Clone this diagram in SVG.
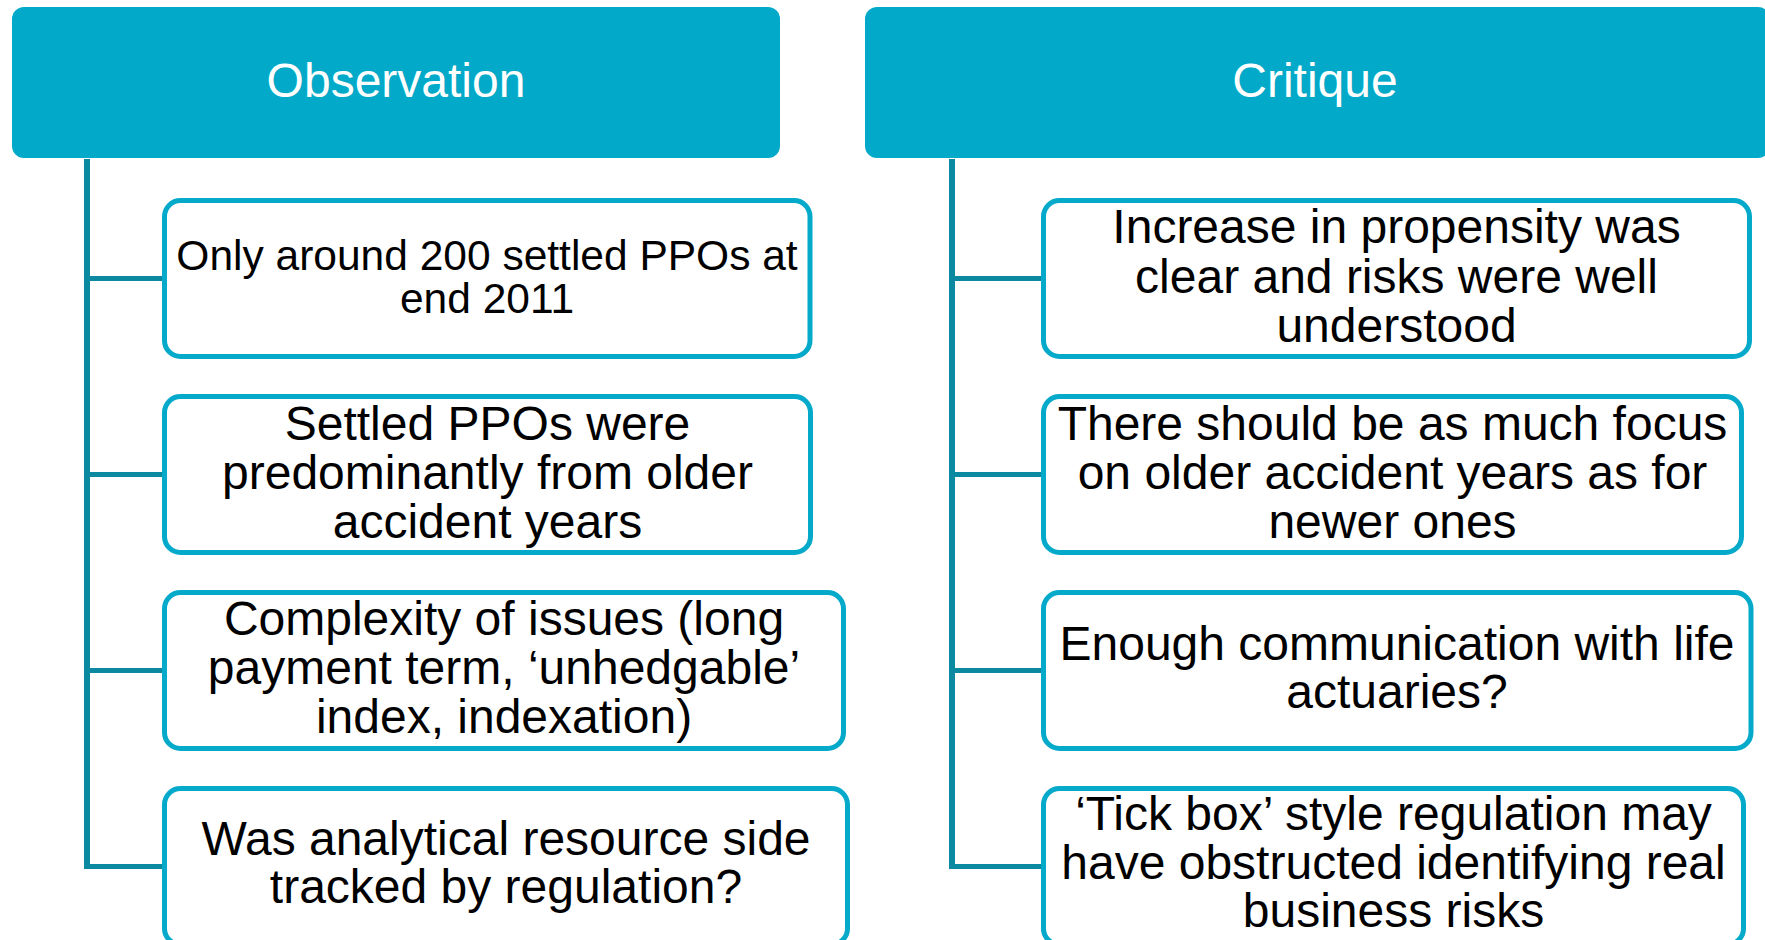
<svg xmlns="http://www.w3.org/2000/svg" width="1765" height="940" viewBox="0 0 1765 940">
  <style>
    .hdr { fill: #02A9C8; }
    .hdr-text { font-family: "Liberation Sans", Arial, sans-serif; font-size: 48px; fill: #FFFFFF; text-anchor: middle; }
    .item { fill: #FFFFFF; stroke: #05AACA; stroke-width: 5; }
    .item-text { font-family: "Liberation Sans", Arial, sans-serif; font-size: 48px; fill: #000000; text-anchor: middle; }
    .small { font-size: 42.5px; }
    .link { fill: none; stroke: #0A89A1; stroke-width: 6; stroke-linecap: square; stroke-linejoin: miter; }
    .branch { fill: none; stroke: #0A89A1; stroke-width: 5; }
  </style>

  <rect width="1765" height="940" fill="#FFFFFF"/>

  <!-- tree connectors -->
  <g id="connectors">
    <path class="link" d="M87,162 V866"/>
    <path class="branch" d="M84,278.5 H163 M84,474.5 H163 M84,670.5 H163 M84,866.5 H163"/>
    <path class="link" d="M952,162 V866"/>
    <path class="branch" d="M949,278.5 H1042 M949,474.5 H1042 M949,670.5 H1042 M949,866.5 H1042"/>
  </g>

  <!-- column headers -->
  <g id="header-observation">
    <rect class="hdr" x="12" y="7" width="768" height="151" rx="12"/>
    <text class="hdr-text" x="396" y="97">Observation</text>
  </g>
  <g id="header-critique">
    <rect class="hdr" x="865" y="7" width="905" height="151" rx="12"/>
    <text class="hdr-text" x="1315" y="97">Critique</text>
  </g>

  <!-- observation items -->
  <g id="obs-1">
    <rect class="item" x="164.5" y="200.5" width="645.5" height="156" rx="16"/>
    <text class="item-text small" x="487" y="270">Only around 200 settled PPOs at</text>
    <text class="item-text small" x="487" y="313">end 2011</text>
  </g>
  <g id="obs-2">
    <rect class="item" x="164.5" y="396.5" width="646" height="156" rx="16"/>
    <text class="item-text" x="487.5" y="440">Settled PPOs were</text>
    <text class="item-text" x="487.5" y="489">predominantly from older</text>
    <text class="item-text" x="487.5" y="538">accident years</text>
  </g>
  <g id="obs-3">
    <rect class="item" x="164.5" y="592.5" width="679" height="156" rx="16"/>
    <text class="item-text" x="504" y="635">Complexity of issues (long</text>
    <text class="item-text" x="504" y="684">payment term, ‘unhedgable’</text>
    <text class="item-text" x="504" y="733">index, indexation)</text>
  </g>
  <g id="obs-4">
    <rect class="item" x="164.5" y="788.5" width="683" height="156" rx="16"/>
    <text class="item-text" x="506" y="855">Was analytical resource side</text>
    <text class="item-text" x="506" y="903">tracked by regulation?</text>
  </g>

  <!-- critique items -->
  <g id="crit-1">
    <rect class="item" x="1043.5" y="200.5" width="706" height="156" rx="16"/>
    <text class="item-text" x="1396.5" y="243">Increase in propensity was</text>
    <text class="item-text" x="1396.5" y="293">clear and risks were well</text>
    <text class="item-text" x="1396.5" y="342">understood</text>
  </g>
  <g id="crit-2">
    <rect class="item" x="1043.5" y="396.5" width="698" height="156" rx="16"/>
    <text class="item-text" x="1392.5" y="440">There should be as much focus</text>
    <text class="item-text" x="1392.5" y="489">on older accident years as for</text>
    <text class="item-text" x="1392.5" y="538">newer ones</text>
  </g>
  <g id="crit-3">
    <rect class="item" x="1043.5" y="592.5" width="707.5" height="156" rx="16"/>
    <text class="item-text" x="1397" y="660">Enough communication with life</text>
    <text class="item-text" x="1397" y="708">actuaries?</text>
  </g>
  <g id="crit-4">
    <rect class="item" x="1043.5" y="788.5" width="700" height="156" rx="16"/>
    <text class="item-text" x="1393.5" y="830">‘Tick box’ style regulation may</text>
    <text class="item-text" x="1393.5" y="879">have obstructed identifying real</text>
    <text class="item-text" x="1393.5" y="927">business risks</text>
  </g>
</svg>
